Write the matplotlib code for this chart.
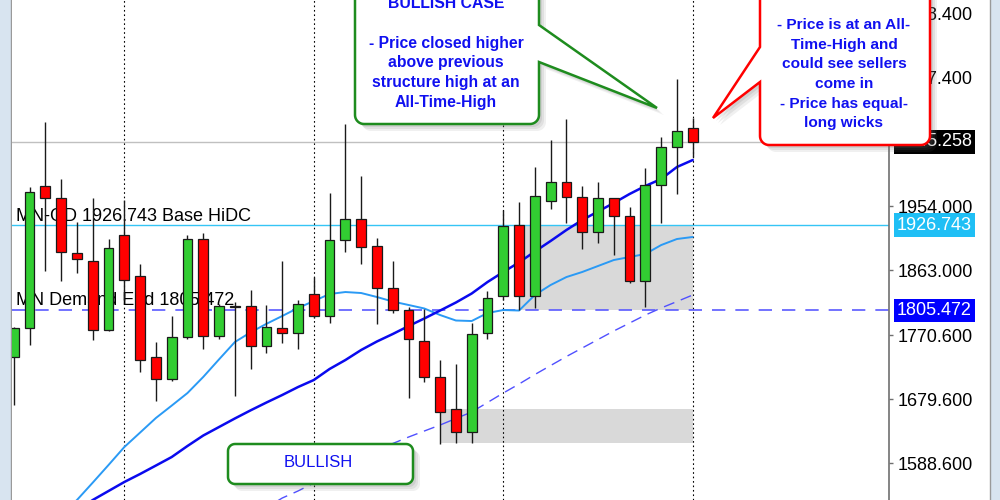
import numpy as np
import matplotlib
matplotlib.use("Agg")
import matplotlib.pyplot as plt
from matplotlib.path import Path
from matplotlib.patches import PathPatch, Rectangle

# ---------------- data (monthly candles) ----------------
opens = [1739.3, 1780.5, 1982.5, 1965.4, 1887.2, 1875.8, 1777.7, 1912.8, 1854.5, 1739.3,
         1708.0, 1767.8, 1907.1, 1769.2, 1811.0, 1811.7, 1754.9, 1780.5, 1773.4, 1828.9,
         1797.6, 1905.7, 1935.5, 1897.1, 1837.4, 1806.1, 1762.1, 1710.9, 1665.4, 1632.7,
         1773.4, 1826.1, 1927.0, 1826.1, 1961.1, 1988.1, 1966.8, 1917.0, 1965.4, 1939.8,
         1847.4, 1983.9, 2037.9, 2064.9]
highs = [1782.0, 1981.0, 2073.5, 1992.4, 1931.3, 1965.4, 1907.1, 1962.6, 1871.6, 1760.6,
         1797.6, 1912.8, 1915.6, 1814.7, 1817.5, 1834.6, 1813.3, 1875.8, 1820.4, 1853.0,
         1972.5, 2070.6, 1996.7, 1908.5, 1875.8, 1810.4, 1807.6, 1735.0, 1729.4, 1787.6,
         1833.2, 1948.3, 1959.7, 2009.5, 2047.9, 2077.7, 1982.5, 1988.1, 1966.0, 1952.6,
         2008.0, 2052.1, 2134.6, 2079.1]
lows = [1671.0, 1756.4, 1861.6, 1847.4, 1858.7, 1763.5, 1776.3, 1820.4, 1718.0, 1676.7,
        1705.2, 1765.0, 1750.7, 1764.9, 1683.8, 1722.3, 1745.0, 1759.2, 1750.7, 1794.8,
        1787.6, 1888.6, 1871.6, 1786.2, 1801.9, 1681.0, 1703.7, 1615.6, 1617.0, 1617.0,
        1764.9, 1820.4, 1806.1, 1809.0, 1949.8, 1929.9, 1892.9, 1901.4, 1884.3, 1844.5,
        1810.4, 1929.9, 1971.1, 2023.7]
closes = [1780.5, 1973.9, 1965.4, 1888.6, 1878.7, 1777.7, 1894.3, 1848.8, 1735.0, 1708.0,
          1767.8, 1907.1, 1769.2, 1811.7, 1812.0, 1754.9, 1781.9, 1773.4, 1814.7, 1797.6,
          1905.7, 1935.5, 1895.7, 1837.4, 1806.1, 1764.9, 1710.9, 1661.1, 1632.7, 1772.0,
          1823.2, 1925.6, 1826.1, 1968.2, 1988.1, 1966.8, 1917.0, 1965.4, 1939.8, 1847.4,
          1983.9, 2037.9, 2060.7, 2045.258]

N = None
ma_fast = [N, N, N, 1515.0, 1536.0, 1560.7, 1585.8, 1611.3, 1631.9, 1652.6,
           1670.2, 1688.1, 1711.0, 1736.0, 1760.6, 1774.4, 1786.5, 1797.6, 1809.0, 1818.9,
           1828.9, 1831.7, 1830.3, 1824.6, 1818.2, 1813.3, 1808.3, 1799.0, 1791.2, 1790.5,
           1801.9, 1806.1, 1805.4, 1827.5, 1841.7, 1853.0, 1860.2, 1868.7, 1877.2, 1881.5,
           1885.8, 1898.5, 1907.1, 1910.0]
ma_mid = [N, N, N, N, 1520.0, 1536.0, 1548.8, 1561.6, 1573.0, 1585.0,
          1597.1, 1612.8, 1627.7, 1639.8, 1651.9, 1663.5, 1674.6, 1685.3, 1696.6, 1706.6,
          1722.3, 1735.0, 1749.3, 1761.4, 1772.0, 1783.3, 1794.1, 1805.4, 1816.8, 1829.6,
          1845.9, 1860.2, 1873.8, 1889.3, 1904.3, 1919.9, 1934.1, 1946.2, 1958.3, 1971.1,
          1982.5, 1992.4, 2009.5, 2019.4]
ma_slow = [N] * 16 + [1525.0, 1538.8, 1548.8, 1560.2,
                      1571.5, 1582.9, 1593.6, 1605.0, 1616.3, 1625.5, 1634.1, 1642.6, 1651.9, 1661.1,
                      1674.6, 1688.1, 1700.9, 1714.4, 1727.2, 1740.0, 1752.1, 1764.2, 1776.3, 1787.6,
                      1799.0, 1809.0, 1818.2, 1827.5]

separators = [7, 19, 31, 43]              # yearly period separators (candle index)
zone_start = [32, 27]                     # demand zones: start candle
zone_end = [43, 43]
zone_low = [1805.472, 1617.0]
zone_high = [1926.743, 1665.4]

level_values = [2045.258, 1926.743, 1805.472]
level_labels = ["2045.258", "1926.743", "1805.472"]
level_box_colors = ["black", "#1fbff5", "#0000ff"]

tick_values = [1588.6, 1679.6, 1770.6, 1863.0, 1954.0, 2046.4, 2137.4, 2228.4]
tick_labels = ["1588.600", "1679.600", "1770.600", "1863.000", "1954.000",
               "2046.400", "2137.400", "2228.400"]

zone_text_1 = "MN-OD 1926.743 Base HiDC"
zone_text_2 = "MN Demand End 1805.472"

green_lines = ["BULLISH CASE", "", "- Price closed higher", "above previous",
               "structure high at an", "All-Time-High"]
red_lines = ["- Price is at an All-", "Time-High and", "could see sellers",
             "come in", "- Price has equal-", "long wicks"]
bull_text = "BULLISH"

# ---------------- figure ----------------
FONT = "Liberation Sans"
fig = plt.figure(figsize=(10, 5), dpi=100, facecolor="#d8e4f0")
panel = Rectangle((10.5 / 1000, -0.01), (990 - 10.5) / 1000, 1.02, transform=fig.transFigure,
                  fc="white", ec="#9a9a9a", lw=1, zorder=-5)
fig.patches.append(panel)

ax = fig.add_axes([12 / 1000, 0, (889 - 12) / 1000, 1], zorder=1)
ax.set_facecolor("white")
n = len(opens)
idx = np.arange(n)
ax.set_xlim(-0.114, 55.43)
ax.set_ylim(1536.0, 2246.93)

# zones
for s, e, lo, hi in zip(zone_start, zone_end, zone_low, zone_high):
    ax.add_patch(Rectangle((s, lo), e - s, hi - lo, fc="#d9d9d9", ec="none", zorder=1))

# separators
for s in separators:
    ax.axvline(s, color="black", lw=0.8, linestyle=(0, (1.5, 2.5)), zorder=1.2)

# horizontal levels
ax.axhline(level_values[0], color="#c0c0c0", lw=1, zorder=1.5)
ax.axhline(level_values[1], color="#35c5f5", lw=1, zorder=1.6)
ax.axhline(level_values[2], color="#5a5aff", lw=1.2, dashes=(8, 6), zorder=1.6)

# zone texts
ytr = ax.get_yaxis_transform()
ax.annotate(zone_text_1, xy=(0.005, level_values[1]), xycoords=ytr, xytext=(0, 4),
            textcoords="offset pixels", va="baseline", ha="left", fontsize=13,
            family=FONT, color="black", zorder=1.8)
ax.annotate(zone_text_2, xy=(0.005, level_values[2]), xycoords=ytr, xytext=(0, 5),
            textcoords="offset pixels", va="baseline", ha="left", fontsize=13,
            family=FONT, color="black", zorder=1.8)

# moving averages
def arr(v):
    return np.array([np.nan if x is None else x for x in v], dtype=float)

ax.plot(idx, arr(ma_fast), color="#2a9af5", lw=1.4, zorder=2.5, solid_capstyle="round")
ax.plot(idx, arr(ma_mid), color="#0a0aee", lw=1.8, zorder=2.6, solid_capstyle="round")
ax.plot(idx, arr(ma_slow), color="#5050ff", lw=1.0, dashes=(8, 5), zorder=2.4)

# candles
w = 0.62
for i in range(n):
    o, h, l, c = opens[i], highs[i], lows[i], closes[i]
    col = "#32cd32" if c >= o else "#ff0000"
    ax.vlines(i, l, h, color="#1a1a1a", lw=1, zorder=4)
    ax.add_patch(Rectangle((i - w / 2, min(o, c)), w, max(abs(c - o), 0.3),
                           fc=col, ec="#1a1a1a", lw=0.9, zorder=5))

# axis style
for sp in ["left", "top", "bottom"]:
    ax.spines[sp].set_visible(False)
ax.spines["right"].set_color("#707070")
ax.spines["right"].set_linewidth(1.2)
ax.set_xticks([])
ax.yaxis.tick_right()
ax.set_yticks(tick_values)
ax.set_yticklabels(tick_labels, family=FONT)
ax.tick_params(axis="y", direction="out", length=3, width=1, color="#707070", pad=3,
               labelsize=13, labelcolor="black", right=True, left=False,
               labelright=True, labelleft=False)

# price label boxes
for v, lab, bc in zip(level_values, level_labels, level_box_colors):
    ax.annotate(lab, xy=(1, v), xycoords=ytr, xytext=(8, 0), textcoords="offset pixels",
                va="center", ha="left", fontsize=13, family=FONT, color="white",
                bbox=dict(boxstyle="square,pad=0.18", fc=bc, ec="none"),
                annotation_clip=False, zorder=10)

# ---------------- callouts (overlay in pixel layout) ----------------
ov = fig.add_axes([0, 0, 1, 1], zorder=20)
ov.set_xlim(0, 1000)
ov.set_ylim(500, 0)
ov.axis("off")


def callout_path(x0, y0, x1, y1, r, side=None, pts=None, dx=0, dy=0):
    def arc(cx, cy, a0, a1, k=10):
        t = np.radians(np.linspace(a0, a1, k))
        return list(zip(cx + r * np.cos(t) + dx, cy + r * np.sin(t) + dy))
    v = []
    v += arc(x0 + r, y0 + r, 180, 270)
    v += arc(x1 - r, y0 + r, 270, 360)
    if side == "right":
        v += [(px + dx, py + dy) for px, py in pts]
    v += arc(x1 - r, y1 - r, 0, 90)
    v += arc(x0 + r, y1 - r, 90, 180)
    if side == "left":
        v += [(px + dx, py + dy) for px, py in pts]
    v.append(v[0])
    codes = [Path.MOVETO] + [Path.LINETO] * (len(v) - 2) + [Path.CLOSEPOLY]
    return Path(v, codes)


def draw_callout(box, r, ec, lw, side=None, pts=None):
    for k, a in [(7, 0.10), (5, 0.12), (3, 0.15)]:
        ov.add_patch(PathPatch(callout_path(*box, r, side, pts, dx=k, dy=k),
                               fc="#707070", ec="none", alpha=a))
    ov.add_patch(PathPatch(callout_path(*box, r, side, pts), fc="white", ec=ec, lw=lw,
                           joinstyle="miter"))


draw_callout((355, -30, 539, 124), 9, "#1e8c1e", 1.8, "right",
             [(539, 25), (657, 108), (539, 62)])
draw_callout((760, -30, 930, 145), 9, "#ff0000", 1.8, "left",
             [(760, 82), (713, 118), (760, 47)])
draw_callout((228, 444, 413, 484), 7, "#1e8c1e", 1.8)

TXT = "#1010f0"
for s, yb in zip(green_lines, [8, 28, 48, 67.5, 87, 107]):
    ov.text(446, yb, s, ha="center", va="baseline", fontsize=11.3, fontweight="bold",
            family=FONT, color=TXT)
for s, yb in zip(red_lines, [29, 49, 68.5, 88, 108, 127]):
    ov.text(844, yb, s, ha="center", va="baseline", fontsize=11.1, fontweight="bold",
            family=FONT, color=TXT)
ov.text(318, 467, bull_text, ha="center", va="baseline", fontsize=12, family=FONT, color=TXT)

fig.savefig("out.png", dpi=100, facecolor=fig.get_facecolor())
